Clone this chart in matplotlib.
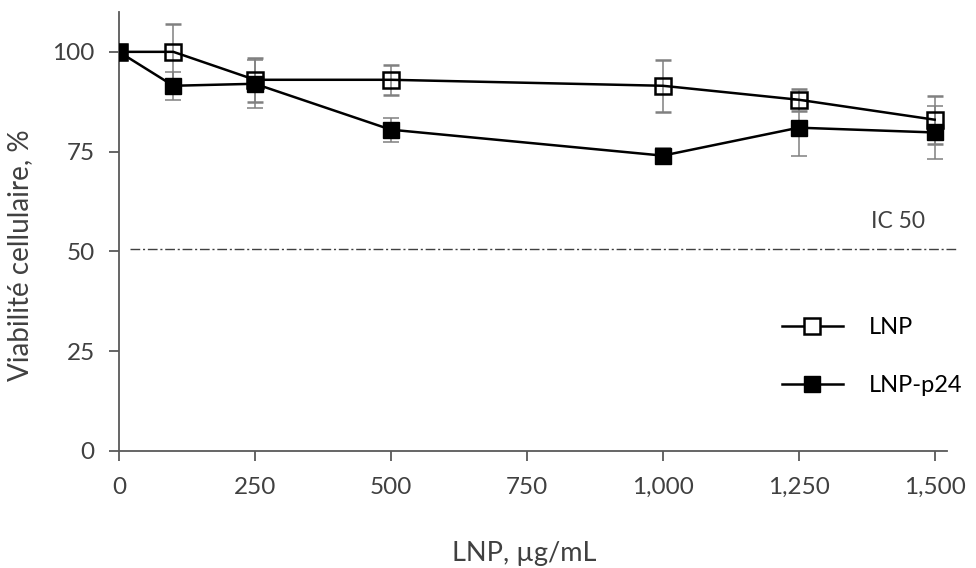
import matplotlib.pyplot as plt
from matplotlib.lines import Line2D

conc = [0, 100, 250, 500, 1000, 1250, 1500]
lnp = [100, 100, 93, 93, 91.5, 88, 83]
lnp_err = [0, 7, 5.5, 3.8, 6.5, 2.7, 6]
p24 = [100, 91.5, 92, 80.5, 74, 81, 79.8]
p24_err = [0, 3.5, 6, 3, 2, 7, 6.7]
yticks = [0, 25, 50, 75, 100]
xticks = [0, 250, 500, 750, 1000, 1250, 1500]
xticklabels = ["0", "250", "500", "750", "1,000", "1,250", "1,500"]
ic50 = 50.5

plt.rcParams["font.family"] = ["Lato", "DejaVu Sans"]
txt = "#404040"

fig = plt.figure(figsize=(9.76, 5.68), dpi=100)
ax = fig.add_axes([0.1219, 0.206, 0.848, 0.773])

ax.errorbar(conc, lnp, yerr=lnp_err, color="black", lw=1.8, marker="s", ms=11,
            mfc="none", mec="black", mew=1.8, ecolor="#808080", elinewidth=1.1,
            capsize=6, capthick=1.1, zorder=3)
ax.errorbar(conc, p24, yerr=p24_err, color="black", lw=1.8, marker="s", ms=11,
            mfc="black", mec="black", ecolor="#808080", elinewidth=1.1,
            capsize=6, capthick=1.1, zorder=3)

ax.plot([20, 1540], [ic50, ic50], color="#404040", lw=1, linestyle=(0, (7, 2, 1.5, 2)),
        clip_on=False)
ax.text(1482, 57.5, "IC 50", ha="right", va="center", fontsize=16.5, color=txt)

ax.set_xlim(0, 1522)
ax.set_ylim(0, 110)
ax.set_xticks(xticks)
ax.set_xticklabels(xticklabels)
ax.set_yticks(yticks)
for s in ["top", "right"]:
    ax.spines[s].set_visible(False)
for s in ["left", "bottom"]:
    ax.spines[s].set_color("#595959")
    ax.spines[s].set_linewidth(1.3)
ax.tick_params(axis="both", direction="out", length=7.5, width=1.3, color="#595959",
               labelsize=17.5, labelcolor=txt)
ax.tick_params(axis="x", pad=11)
ax.tick_params(axis="y", pad=10)

ax.set_ylabel("Viabilité cellulaire, %", fontsize=20, color=txt)
ax.yaxis.set_label_coords(-0.104, 0.446)
ax.set_xlabel("LNP, µg/mL", fontsize=19.5, color=txt)
ax.xaxis.set_label_coords(0.49, -0.205)

handles = [
    Line2D([], [], color="black", lw=1.8, marker="s", ms=11, mfc="white", mec="black", mew=1.8),
    Line2D([], [], color="black", lw=1.8, marker="s", ms=11, mfc="black", mec="black"),
]
leg = ax.legend(handles, ["LNP", "LNP-p24"], loc="center left", bbox_to_anchor=(0.775, 0.215),
                frameon=False, fontsize=17, labelspacing=1.55, handlelength=2.6,
                handletextpad=1.1)
for t in leg.get_texts():
    t.set_color("black")

fig.savefig("out.png", dpi=100)
